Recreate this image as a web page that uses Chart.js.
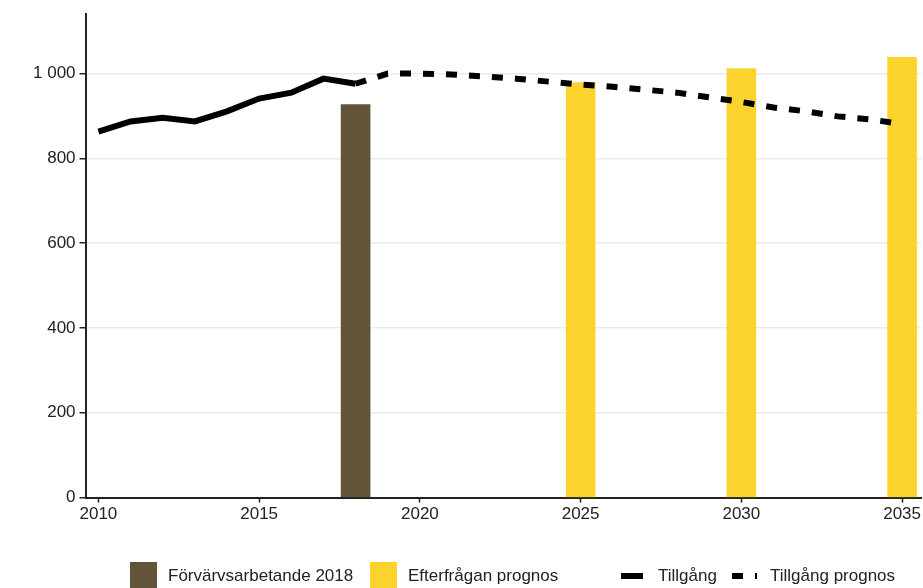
<!DOCTYPE html>
<html>
<head>
<meta charset="utf-8">
<script src="https://cdn.jsdelivr.net/npm/chart.js@4"></script>
<style>
  html, body { margin: 0; padding: 0; background: #fff; }
  #wrap { width: 923px; height: 588px; }
</style>
</head>
<body>
<div id="wrap"><canvas id="kompetensChart" width="923" height="588"></canvas></div>
<script>
// historiska värden (Tillgång)
const supplyYears = [2010, 2011, 2012, 2013, 2014, 2015, 2016, 2017, 2018];
const supplyValues = [863, 887, 896, 887, 911, 941, 955, 988, 976];

// prognos (Tillgång prognos)
const forecastYears = [2018, 2019, 2020, 2021, 2022, 2023, 2024, 2025, 2026, 2027, 2028, 2029, 2030, 2031, 2032, 2033, 2034, 2035];
const forecastValues = [976, 1000, 1000, 998, 993, 988, 981, 974, 969, 962, 955, 944, 933, 920, 911, 899, 892, 881];

// staplar
const employedYears = [2018];
const employedValues = [927];
const demandYears = [2025, 2030, 2035];
const demandValues = [979, 1012, 1038];

const xTickLabels = [2010, 2015, 2020, 2025, 2030, 2035];
const yTickValues = [0, 200, 400, 600, 800, 1000];

const toPoints = (xs, ys) => xs.map((x, i) => ({ x: x, y: ys[i] }));
const fontFamily = '"Liberation Sans", Arial, sans-serif';
const textColor = '#222';

// egen legend längst ner
const bottomLegend = {
    id: 'bottomLegend',
    afterDraw(chart) {
        const ctx = chart.ctx;
        const ds = chart.data.datasets;
        const cy = 576;
        const items = [
            { d: ds[2], kind: 'box', x: 130 },
            { d: ds[3], kind: 'box', x: 370 },
            { d: ds[0], kind: 'line', x: 621 },
            { d: ds[1], kind: 'dash', x: 732 }
        ];
        ctx.save();
        ctx.font = '17px ' + fontFamily;
        ctx.textBaseline = 'middle';
        items.forEach(it => {
            let textX;
            if (it.kind === 'box') {
                ctx.fillStyle = it.d.backgroundColor;
                ctx.fillRect(it.x, cy - 14, 27, 28);
                textX = it.x + 27 + 11;
            } else {
                ctx.strokeStyle = it.d.borderColor;
                ctx.lineWidth = 6;
                ctx.setLineDash(it.kind === 'dash' ? [11, 12] : []);
                ctx.beginPath();
                ctx.moveTo(it.x, cy);
                ctx.lineTo(it.x + (it.kind === 'dash' ? 25 : 22), cy);
                ctx.stroke();
                ctx.setLineDash([]);
                textX = it.x + (it.kind === 'dash' ? 38 : 37);
            }
            ctx.fillStyle = textColor;
            ctx.fillText(it.d.label, textX, cy);
        });
        ctx.restore();
    }
};

const ctx = document.getElementById('kompetensChart').getContext('2d');
new Chart(ctx, {
    type: 'bar',
    data: {
        datasets: [{
            type: 'line',
            label: 'Tillgång',
            data: toPoints(supplyYears, supplyValues),
            borderColor: '#000',
            borderWidth: 6,
            pointRadius: 0,
            tension: 0,
            order: 0
        }, {
            type: 'line',
            label: 'Tillgång prognos',
            data: toPoints(forecastYears, forecastValues),
            borderColor: '#000',
            borderWidth: 6,
            borderDash: [11, 12],
            pointRadius: 0,
            tension: 0,
            order: 0
        }, {
            type: 'bar',
            label: 'Förvärvsarbetande 2018',
            data: toPoints(employedYears, employedValues),
            backgroundColor: '#615438',
            barThickness: 29,
            grouped: false,
            order: 1
        }, {
            type: 'bar',
            label: 'Efterfrågan prognos',
            data: toPoints(demandYears, demandValues),
            backgroundColor: '#FCD32E',
            barThickness: 29,
            grouped: false,
            order: 1
        }]
    },
    options: {
        responsive: false,
        animation: false,
        layout: { padding: { left: 29, top: 11, right: 0, bottom: 61 } },
        plugins: {
            legend: { display: false },
            tooltip: { enabled: false }
        },
        scales: {
            x: {
                type: 'linear',
                min: 2009.6,
                max: 2035.6,
                offset: false,
                afterBuildTicks: (axis) => {
                    axis.ticks = xTickLabels.map(v => ({ value: v }));
                },
                ticks: {
                    callback: (v) => String(v),
                    font: { family: fontFamily, size: 17 },
                    color: textColor,
                    padding: 2,
                    maxRotation: 0
                },
                grid: {
                    offset: false,
                    drawOnChartArea: false,
                    drawTicks: true,
                    tickLength: 5,
                    tickColor: '#222',
                    tickWidth: 1.5
                },
                border: { color: '#222', width: 2 }
            },
            y: {
                min: 0,
                max: 1140,
                afterBuildTicks: (axis) => {
                    axis.ticks = yTickValues.map(v => ({ value: v }));
                },
                ticks: {
                    callback: (v) => v >= 1000 ? String(v).replace(/\B(?=(\d{3})+(?!\d))/g, ' ') : String(v),
                    font: { family: fontFamily, size: 17 },
                    color: textColor,
                    padding: 4
                },
                grid: {
                    color: '#ebebeb',
                    lineWidth: 1.5,
                    tickColor: '#222',
                    tickLength: 6,
                    tickWidth: 1.5
                },
                border: { color: '#222', width: 2 }
            }
        }
    },
    plugins: [bottomLegend]
});
</script>
</body>
</html>
